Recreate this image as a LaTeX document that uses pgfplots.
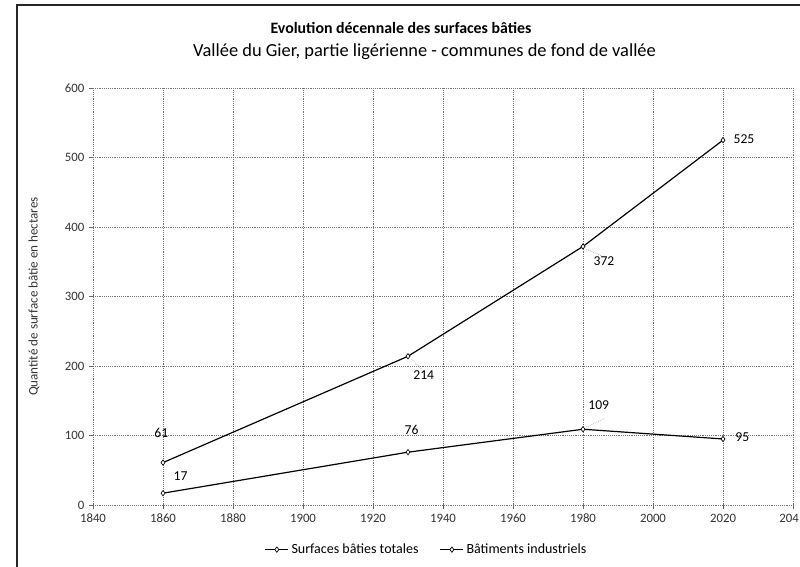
\documentclass[border=0pt]{standalone}
\usepackage{pgfplots}
\pgfplotsset{compat=1.18}
\usepackage{fontspec}
\setmainfont{Carlito}
\begin{document}
\begin{tikzpicture}[x=1pt,y=1pt]
\useasboundingbox (0,0) rectangle (600,425.25);
\draw[line width=1.2pt,black!85] (12.75,0) -- (12.75,421.5) -- (600,421.5);
\node[font=\bfseries\fontsize{11.9}{14}\selectfont] at (300.75,404) {Evolution décennale des surfaces bâties};
\node[font=\fontsize{13.8}{16}\selectfont] at (318.4,386.5) {Vallée du Gier, partie ligérienne - communes de fond de vallée};
\begin{axis}[
  scale only axis, width=525pt, height=312.75pt,
  at={(69.75pt,46.5pt)}, anchor=south west,
  xmin=1840, xmax=2040, ymin=0, ymax=600,
  xtick={1840,1860,...,2040}, ytick={0,100,...,600},
  xticklabels={1840,1860,1880,1900,1920,1940,1960,1980,2000,2020,\hspace*{-6pt}204},
  /pgf/number format/assume math mode=true,
  /pgf/number format/1000 sep={},
  grid=major, major grid style={black!55, densely dotted, line width=0.5pt},
  axis line style={black!55, densely dotted},
  axis x line*=bottom, axis y line*=left,
  tick style={black!60}, major tick length=3pt,
  tick align=outside,
  ticklabel style={font=\fontsize{9.6}{11}\selectfont, black!80},
  ylabel={Quantité de surface bâtie en hectares},
  ylabel style={font=\fontsize{9.8}{11}\selectfont, black!80, at={(axis description cs:-0.07,0.5)}},
  legend style={at={(0.477,-0.107)}, anchor=center, draw=none, legend columns=2,
    font=\fontsize{10.5}{12}\selectfont, /tikz/every even column/.append style={column sep=14pt}},
  legend cell align=left,
  clip=false,
]
\addplot[black, line width=0.9pt, mark=diamond*, mark size=2pt, mark options={fill=white, line width=0.5pt}]
  coordinates {(1860,61) (1930,214) (1980,372) (2020,525)};
\addlegendentry{Surfaces bâties totales}
\addplot[black, line width=0.9pt, mark=diamond*, mark size=2pt, mark options={fill=white, line width=0.5pt}]
  coordinates {(1860,17) (1930,76) (1980,109) (2020,95)};
\addlegendentry{Bâtiments industriels}
\draw[black!50, densely dotted] (axis cs:1931,210) -- (axis cs:1934,195);
\draw[black!50, densely dotted] (axis cs:1981,368) -- (axis cs:1986,357);
\draw[black!50, densely dotted] (axis cs:1981,112) -- (axis cs:1986,124);
\begin{scope}[every node/.style={font=\fontsize{10.2}{12}\selectfont, black}]
\node at (axis cs:1859.5,103) {61};
\node at (axis cs:1865,41) {17};
\node at (axis cs:1934.5,187) {214};
\node at (axis cs:1986,351) {372};
\node at (axis cs:1931,108) {76};
\node at (axis cs:1984.5,144) {109};
\node at (axis cs:2025.5,98) {95};
\node at (axis cs:2026,526) {525};
\end{scope}
\end{axis}
\end{tikzpicture}
\end{document}
